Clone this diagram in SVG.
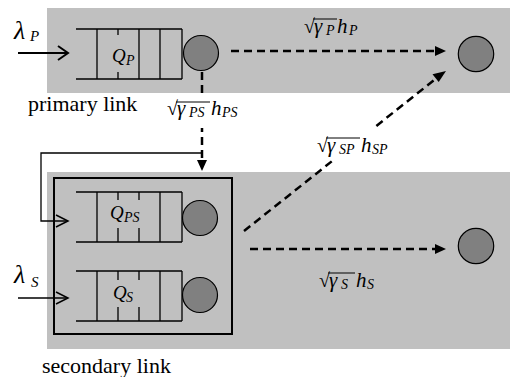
<svg xmlns="http://www.w3.org/2000/svg" width="510" height="377" viewBox="0 0 510 377">
<defs>
<style>
.bg{fill:#c0c0c0;stroke:none}
.q{stroke:#000;stroke-width:1.3;fill:none}
.srv{fill:#808080;stroke:#000;stroke-width:1.2}
.solid{stroke:#000;fill:none}
.dash{stroke:#000;stroke-width:2.5;stroke-dasharray:8 5;fill:none}
.head{fill:#000;stroke:none}
.ov{stroke:#000;stroke-width:1}
</style>
</defs>
<rect width="510" height="377" fill="#fff"/>
<rect class="bg" x="47" y="8" width="463" height="85"/>
<rect class="bg" x="47" y="172" width="463" height="177"/>

<g id="secondary-box"><rect x="54" y="178" width="178" height="156" fill="none" stroke="#000" stroke-width="2"/></g>

<g id="queue-p">
<path class="q" d="M76,29H182M76,79H182M97,29V79M160,29V79M182,29V79M139,29V79M118,29V35M118,72V79"/>
<text x="112" y="62" font-family="Liberation Serif, serif" font-style="italic" font-size="19">Q<tspan x="126" y="65" font-size="14">P</tspan></text>
</g>
<g id="server-p"><circle class="srv" cx="201" cy="53" r="17.5"/></g>

<g id="queue-ps">
<path class="q" d="M76,192H182M76,242H182M97,192V242M160,192V242M182,192V242M118,192V200M118,228V242M139,192V200M139,228V242"/>
<text x="110" y="219" font-family="Liberation Serif, serif" font-style="italic" font-size="19">Q<tspan x="124" y="222" font-size="14">PS</tspan></text>
</g>
<g id="server-ps"><circle class="srv" cx="200" cy="218" r="17.5"/></g>

<g id="queue-s">
<path class="q" d="M76,271H182M76,321H182M97,271V321M160,271V321M182,271V321M118,271V280M118,307V321M139,271V280M139,307V321"/>
<text x="113" y="299" font-family="Liberation Serif, serif" font-style="italic" font-size="19">Q<tspan x="126" y="302" font-size="14">S</tspan></text>
</g>
<g id="server-s"><circle class="srv" cx="200" cy="295" r="17.5"/></g>

<g id="rx-p"><circle class="srv" cx="476" cy="54" r="17.7"/></g>
<g id="rx-s"><circle class="srv" cx="476" cy="246" r="17.7"/></g>

<g id="connectors">
<line class="solid" stroke-width="2" x1="18" y1="53" x2="67" y2="53"/>
<polyline class="solid" stroke-width="2" points="58,46 68,53 58,60"/>
<polyline class="solid" stroke-width="1.3" points="202,153 41,153 41,221 67,221"/>
<polyline class="solid" stroke-width="1.5" points="56,215 68,221 56,227"/>
<line class="solid" stroke-width="1.5" x1="18" y1="298" x2="67" y2="298"/>
<polyline class="solid" stroke-width="1.5" points="56,292 68,298 56,304"/>
<line class="dash" x1="231" y1="51" x2="437" y2="51"/>
<polygon class="head" points="446,51 435,46 435,56"/>
<line class="dash" x1="202" y1="72" x2="202" y2="162"/>
<polygon class="head" points="202,171 197,160 207,160"/>
<line class="dash" x1="244" y1="231" x2="438" y2="77"/>
<polygon class="head" points="446,71 432.5,74.3 438.7,82.1"/>
<line class="dash" x1="250" y1="249" x2="437" y2="249"/>
<polygon class="head" points="446,249 435,244 435,254"/>
</g>

<text x="14" y="39" font-family="Liberation Serif, serif" font-style="italic" font-size="26">λ<tspan x="30" y="41" font-size="15">P</tspan></text>
<text x="14" y="283" font-family="Liberation Serif, serif" font-style="italic" font-size="26">λ<tspan x="31" y="287" font-size="15">S</tspan></text>
<text x="28" y="111" font-family="Liberation Serif, serif" font-size="22">primary link</text>
<text x="42" y="373" font-family="Liberation Serif, serif" font-size="22">secondary link</text>

<text x="304" y="33" font-family="Liberation Serif, serif" font-size="20">√<tspan x="314" font-style="italic" font-size="21">γ</tspan><tspan x="326" y="35" font-style="italic" font-size="14">P</tspan><tspan x="337" y="33" font-style="italic" font-size="21">h</tspan><tspan x="349" y="35" font-style="italic" font-size="14">P</tspan></text>
<line class="ov" x1="313" y1="19" x2="337" y2="19"/>

<rect x="165" y="96" width="78" height="32" fill="#fff"/>
<text x="167" y="115" font-family="Liberation Serif, serif" font-size="20">√<tspan x="177" font-style="italic" font-size="21">γ</tspan><tspan x="189" y="117" font-style="italic" font-size="14">PS</tspan><tspan x="211" y="115" font-style="italic" font-size="21">h</tspan><tspan x="222" y="117" font-style="italic" font-size="14">PS</tspan></text>
<line class="ov" x1="176" y1="102" x2="210" y2="102"/>

<rect x="314" y="128" width="78" height="32" fill="#fff"/>
<text x="317" y="152" font-family="Liberation Serif, serif" font-size="20">√<tspan x="327" font-style="italic" font-size="21">γ</tspan><tspan x="339" y="154" font-style="italic" font-size="14">SP</tspan><tspan x="361" y="152" font-style="italic" font-size="21">h</tspan><tspan x="372" y="154" font-style="italic" font-size="14">SP</tspan></text>
<line class="ov" x1="326" y1="138" x2="360" y2="138"/>

<text x="319" y="287" font-family="Liberation Serif, serif" font-size="20">√<tspan x="329" font-style="italic" font-size="21">γ</tspan><tspan x="341" y="289" font-style="italic" font-size="14">S</tspan><tspan x="356" y="287" font-style="italic" font-size="21">h</tspan><tspan x="367" y="289" font-style="italic" font-size="14">S</tspan></text>
<line class="ov" x1="328" y1="273" x2="355" y2="273"/>
</svg>
